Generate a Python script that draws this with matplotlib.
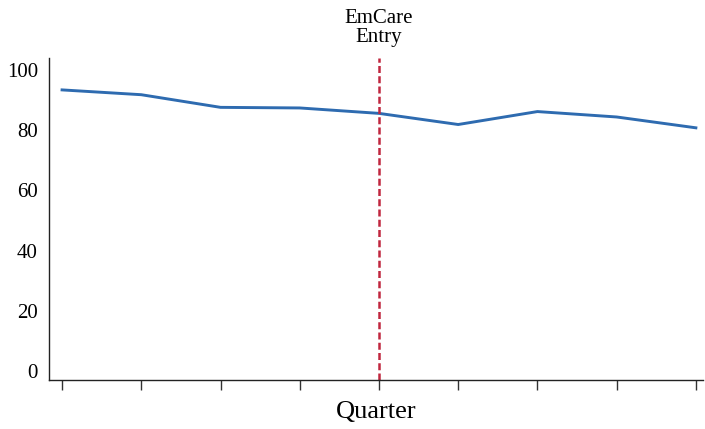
import matplotlib
matplotlib.use("Agg")
import matplotlib.pyplot as plt

quarters = [1, 2, 3, 4, 5, 6, 7, 8, 9]
values = [93.4, 91.8, 87.6, 87.4, 85.6, 81.9, 86.2, 84.4, 80.8]
entry_quarter = 5
yticks = [0, 20, 40, 60, 80, 100]

plt.rcParams['font.family'] = ['Liberation Serif', 'DejaVu Serif']

fig = plt.figure(figsize=(7.05, 4.29), dpi=100)
ax = fig.add_axes([49/705, 49/429, (703-49)/705, (380-58)/429])

ax.plot(quarters, values, color='#2E6BB0', lw=2.1)
ax.axvline(entry_quarter, color='#C0263E', lw=1.8, ls=(0, (2.8, 1.3)))

ax.set_xlim(0.835, 9.09)
ax.set_ylim(-3, 104)
ax.set_xticks(quarters)
ax.set_xticklabels([])
ax.set_yticks(yticks)
ax.tick_params(axis='y', length=0, pad=8, labelsize=15)
ax.tick_params(axis='x', length=7.5, width=1, direction='out', color='#333333')
for s in ['top', 'right']:
    ax.spines[s].set_visible(False)
for s in ['left', 'bottom']:
    ax.spines[s].set_linewidth(1)
    ax.spines[s].set_color('#222222')

ax.set_xlabel('Quarter', fontsize=19, labelpad=4)
ax.annotate('EmCare\nEntry', xy=(entry_quarter, 1.0), xycoords=ax.get_xaxis_transform(),
            xytext=(0, 8), textcoords='offset points',
            ha='center', va='bottom', fontsize=15, linespacing=1.0)

fig.savefig('out.png', dpi=100)
